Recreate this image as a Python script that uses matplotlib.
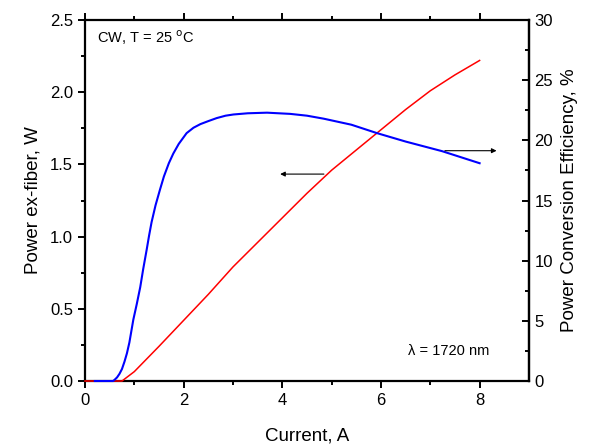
import numpy as np
import matplotlib.pyplot as plt

plt.rcParams['font.family'] = ['Liberation Sans', 'DejaVu Sans']

# output power (left axis), W
cur_p = [0, 0.75, 1.0, 1.5, 2.0, 2.5, 3.0, 3.5, 4.0, 4.5, 5.0, 5.5, 6.0, 6.5, 7.0, 7.5, 8.0]
power = [0, 0, 0.065, 0.24, 0.42, 0.60, 0.79, 0.96, 1.13, 1.30, 1.46, 1.60, 1.74, 1.88, 2.01, 2.12, 2.22]

# power conversion efficiency (right axis), %
cur_e = [0.2, 0.57, 0.6, 0.65, 0.7, 0.75, 0.8, 0.85, 0.9, 0.98, 1.05, 1.12, 1.18, 1.25, 1.3,
         1.35, 1.43, 1.52, 1.6, 1.7, 1.79, 1.9, 2.06, 2.2, 2.34, 2.5, 2.67, 2.85, 3.01,
         3.3, 3.69, 4.16, 4.5, 4.84, 5.4, 5.92, 6.5, 7.24, 8.0]
pce = [0, 0, 0.1, 0.3, 0.6, 1.0, 1.6, 2.3, 3.2, 5.1, 6.4, 7.8, 9.3, 10.9, 12.1,
       13.2, 14.6, 15.9, 17.0, 18.1, 18.9, 19.7, 20.6, 21.05, 21.35, 21.6, 21.85, 22.05, 22.15,
       22.25, 22.3, 22.2, 22.05, 21.8, 21.3, 20.6, 19.9, 19.1, 18.1]

fig = plt.figure(figsize=(5.91, 4.45), dpi=100)
ax = fig.add_axes([0.1438, 0.1438, 0.895 - 0.1438, 0.955 - 0.1438])
ax2 = ax.twinx()

ax.plot(cur_p, power, color='red', lw=1.1, zorder=3, clip_on=False)
ax2.plot(cur_e, pce, color='blue', lw=1.5, zorder=3, clip_on=False)

ax.set_xlim(0, 9)
ax.set_ylim(0, 2.5)
ax2.set_ylim(0, 30)
ax.set_xticks([0, 2, 4, 6, 8])
ax.set_xticks([1, 3, 5, 7], minor=True)
ax.set_yticks([0, 0.5, 1.0, 1.5, 2.0, 2.5])
ax.set_yticks(np.arange(0.25, 2.5, 0.5), minor=True)
ax.yaxis.set_major_formatter(plt.FormatStrFormatter('%.1f'))
ax2.set_yticks([0, 5, 10, 15, 20, 25, 30])
ax2.set_yticks(np.arange(2.5, 30, 5), minor=True)

for s in ax.spines.values():
    s.set_linewidth(1.6)
for side in ('left', 'bottom', 'top'):
    ax2.spines[side].set_visible(False)
ax2.spines['right'].set_linewidth(1.6)

ax.tick_params(axis='both', which='both', direction='out', top=True, labelsize=12, width=1.4)
ax.tick_params(which='major', length=5)
ax.tick_params(which='minor', length=3)
ax2.tick_params(axis='y', which='both', direction='in', labelsize=12, width=1.4, pad=4)
ax2.tick_params(which='major', length=5)
ax2.tick_params(which='minor', length=3)

ax.set_xlabel('Current, A', fontsize=13.5, labelpad=14)
ax.set_ylabel('Power ex-fiber, W', fontsize=13.5, labelpad=6)
ax2.set_ylabel('Power Conversion Efficiency, %', fontsize=13.5, labelpad=6)

ax.text(0.25, 2.34, 'CW, T = 25 $^{\\rm o}$C', fontsize=10.5)
ax.text(6.55, 0.18, '\u03bb = 1720 nm', fontsize=10.5)

ax.annotate('', xy=(3.9, 1.433), xytext=(4.9, 1.433),
            arrowprops=dict(arrowstyle='-|>', color='black', lw=0.8, mutation_scale=7))
ax2.annotate('', xy=(8.4, 19.14), xytext=(7.24, 19.14),
             arrowprops=dict(arrowstyle='-|>', color='black', lw=0.8, mutation_scale=7))

plt.savefig('out.png', dpi=100)
